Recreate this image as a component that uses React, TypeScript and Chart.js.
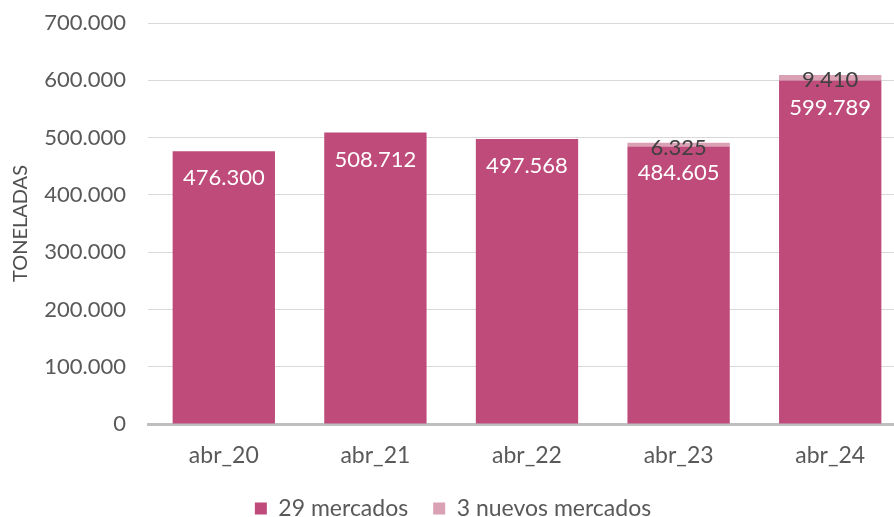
import React, { useEffect, useRef } from "react";
import { Chart, registerables } from "chart.js";

Chart.register(...registerables);

const categories = ["abr_20", "abr_21", "abr_22", "abr_23", "abr_24"];
const mercados29 = [476300, 508712, 497568, 484605, 599789];
const nuevos3 = [null, null, null, 6325, 9410];
const yTicks = [0, 100000, 200000, 300000, 400000, 500000, 600000, 700000];

const FONT = "Lato, 'Open Sans', sans-serif";
const MAIN = "#BE4B7A";
const LIGHT = "#D9A1B3";

function fmt(v: number): string {
  return String(Math.round(v)).replace(/\B(?=(\d{3})+(?!\d))/g, ".");
}

const labelPlugin = {
  id: "barLabels",
  afterDatasetsDraw(chart: any) {
    const ctx = chart.ctx;
    ctx.save();
    ctx.textAlign = "center";
    ctx.textBaseline = "middle";
    ctx.font = `22px ${FONT}`;
    chart.data.datasets.forEach((ds: any, di: number) => {
      const meta = chart.getDatasetMeta(di);
      meta.data.forEach((el: any, i: number) => {
        const v = ds.data[i];
        if (v == null || v === 0) return;
        if (di === 0) {
          ctx.fillStyle = "#ffffff";
          ctx.fillText(fmt(v), el.x, el.y + 27);
        } else {
          ctx.fillStyle = "#404040";
          ctx.fillText(fmt(v), el.x, el.y + 5);
        }
      });
    });
    ctx.restore();
  },
};

export default function App() {
  const ref = useRef<HTMLCanvasElement | null>(null);
  useEffect(() => {
    if (!ref.current) return;
    const chart = new Chart(ref.current, {
      type: "bar",
      data: {
        labels: categories,
        datasets: [
          {
            label: "29 mercados",
            data: mercados29,
            backgroundColor: MAIN,
            categoryPercentage: 1,
            barPercentage: 0.675,
          },
          {
            label: "3 nuevos mercados",
            data: nuevos3 as any,
            backgroundColor: LIGHT,
            categoryPercentage: 1,
            barPercentage: 0.675,
          },
        ],
      },
      options: {
        animation: false,
        responsive: false,
        maintainAspectRatio: false,
        layout: { padding: { top: 23, left: 0, right: 0, bottom: 0 } },
        plugins: {
          tooltip: { enabled: false },
          legend: {
            position: "bottom",
            labels: {
              color: "#595959",
              font: { family: FONT, size: 23 },
              boxWidth: 12,
              boxHeight: 12,
              padding: 25,
            },
          },
        },
        scales: {
          x: {
            stacked: true,
            grid: { display: false },
            border: { display: true, color: "#BFBFBF", width: 3 },
            ticks: {
              color: "#595959",
              font: { family: FONT, size: 23 },
              padding: 10,
            },
            afterFit(scale: any) {
              scale.height = 48;
            },
          },
          y: {
            stacked: true,
            min: 0,
            max: 700000,
            afterBuildTicks(scale: any) {
              scale.ticks = yTicks.map((v) => ({ value: v }));
            },
            grid: { color: "#D9D9D9", lineWidth: 1, drawTicks: false },
            border: { display: false },
            ticks: {
              color: "#595959",
              font: { family: FONT, size: 22 },
              padding: 22,
              callback: (v: any) => fmt(Number(v)),
            },
            title: {
              display: true,
              text: "TONELADAS",
              color: "#505050",
              font: { family: FONT, size: 20 },
              padding: { top: 9, bottom: 0 },
            },
            afterFit(scale: any) {
              scale.width = 148;
              scale.paddingTop = 0;
              scale.paddingBottom = 0;
            },
          },
        },
      },
      plugins: [labelPlugin],
    });
    return () => chart.destroy();
  }, []);
  return (
    <div
      style={{
        position: "fixed",
        left: 0,
        top: 0,
        width: 894,
        height: 517,
        overflow: "hidden",
        background: "#fff",
      }}
    >
      <canvas ref={ref} width={906} height={530} style={{ display: "block" }} />
    </div>
  );
}
